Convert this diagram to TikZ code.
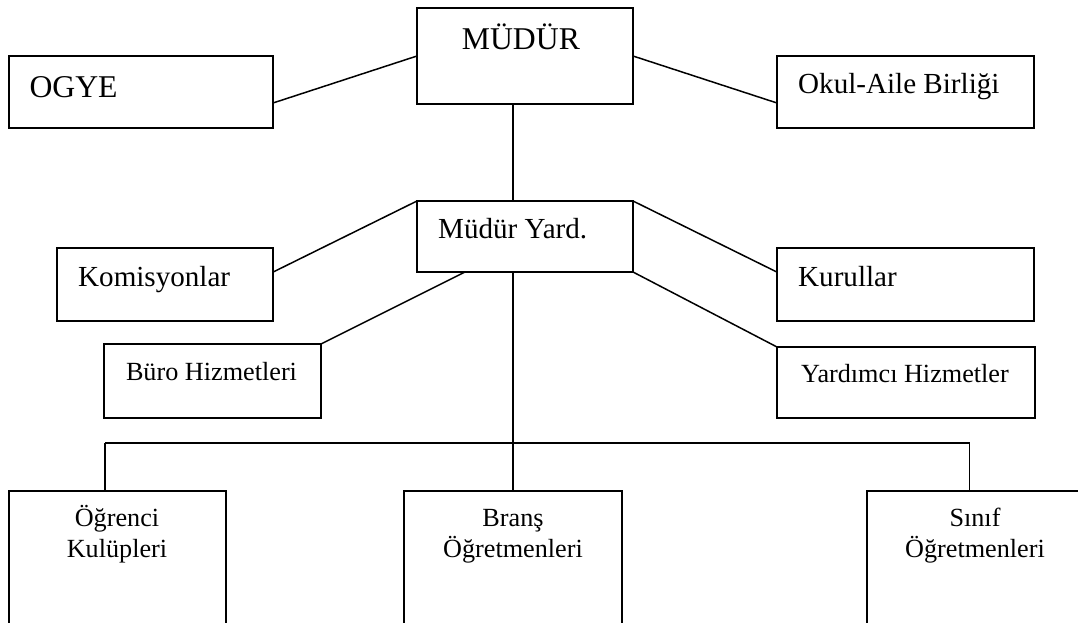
\documentclass[tikz,border=0pt]{standalone}
\usepackage{fontspec}
\setmainfont{Liberation Serif}
\begin{document}
\begin{tikzpicture}[x=1pt,y=-1pt,
  box/.style={draw,line width=1.5pt,rectangle,inner sep=0pt,outer sep=0pt,anchor=north west},
  conn/.style={line width=1.5pt},
  big/.style={inner sep=0pt,font=\fontsize{31.7}{36}\selectfont},
  mid/.style={inner sep=0pt,font=\fontsize{29.1}{34}\selectfont},
  sml/.style={inner sep=0pt,font=\fontsize{26.2}{30}\selectfont}]
\useasboundingbox (0,0) rectangle (1078,623);
\clip (0,0) rectangle (1078,623);
% boxes
\node[box,minimum width=216pt,minimum height=96pt] (mudur) at (417,8) {};
\node[box,minimum width=264pt,minimum height=72pt] (ogye) at (9,56) {};
\node[box,minimum width=257pt,minimum height=72pt] (okul) at (777,56) {};
\node[box,minimum width=216pt,minimum height=71pt] (yard) at (417,201) {};
\node[box,minimum width=216pt,minimum height=73pt] (komis) at (57,248) {};
\node[box,minimum width=257pt,minimum height=73pt] (kurul) at (777,248) {};
\node[box,minimum width=217pt,minimum height=74pt] (buro) at (104,344) {};
\node[box,minimum width=258pt,minimum height=71pt] (yrdhiz) at (777,347) {};
\node[box,minimum width=217pt,minimum height=170pt] (ogr) at (9,491) {};
\node[box,minimum width=218pt,minimum height=170pt] (brans) at (404,491) {};
\node[box,minimum width=216pt,minimum height=170pt] (sinif) at (867,491) {};
% texts
\node[big,anchor=base west] (tmudur) at (461.7,49.3) {MÜDÜR};
\node[big,anchor=base west] (togye) at (29.3,97.3) {OGYE};
\node[mid,anchor=base west] (tokul) at (798,94) {Okul-Aile Birliği};
\node[mid,anchor=base west] (tyard) at (438,238) {Müdür Yard.};
\node[mid,anchor=base west] (tkomis) at (78,286) {Komisyonlar};
\node[mid,anchor=base west] (tkurul) at (798,286) {Kurullar};
\node[sml,anchor=base] (tburo) at (211.5,380) {Büro Hizmetleri};
\node[sml,anchor=base] (tyrd) at (905,382.7) {Yardımcı Hizmetler};
\node[sml,anchor=base] (togr1) at (117,526.7) {Öğrenci};
\node[sml,anchor=base] (togr2) at (117,557) {Kulüpleri};
\node[sml,anchor=base] (tbr1) at (513,526.7) {Branş};
\node[sml,anchor=base] (tbr2) at (513,557) {Öğretmenleri};
\node[sml,anchor=base] (tsn1) at (975,526.7) {Sınıf};
\node[sml,anchor=base] (tsn2) at (975,557) {Öğretmenleri};
% junction coordinates
\coordinate (hl) at (105,443);
\coordinate (hr) at (969.5,443);
% connectors
\draw[conn] ([yshift=-11pt]ogye.east) -- (mudur.west);
\draw[conn] (mudur.east) -- ([yshift=-11pt]okul.west);
\draw[conn] ([xshift=-12pt]mudur.south) -- ([xshift=-12pt]yard.north);
\draw[conn] (yard.north west) -- ([yshift=12.4pt]komis.east);
\draw[conn] (yard.north east) -- ([yshift=12.4pt]kurul.west);
\draw[conn] ([xshift=-60pt]yard.south) -- (buro.north east);
\draw[conn] (yard.south east) -- (yrdhiz.north west);
\draw[conn] ([xshift=-12pt]yard.south) -- (brans.north);
\draw[conn] (hl) -- (hr);
\draw[conn] (hl) -- (ogr.north west -| hl);
\draw[conn] (hr) -- (sinif.north west -| hr);
\end{tikzpicture}
\end{document}
